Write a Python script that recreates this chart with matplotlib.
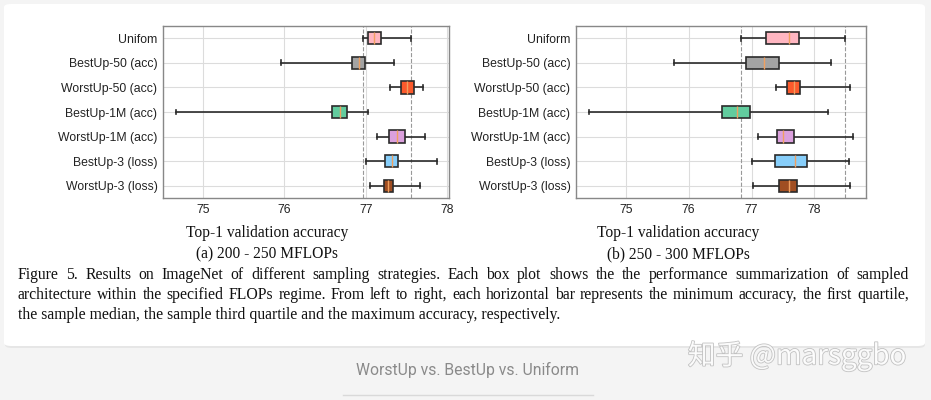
import matplotlib
matplotlib.use('Agg')
import matplotlib.pyplot as plt
import matplotlib.patheffects as pe
from matplotlib.patches import FancyBboxPatch
from matplotlib.lines import Line2D

# categories, top to bottom
labels_a = ['Unifom', 'BestUp-50 (acc)', 'WorstUp-50 (acc)', 'BestUp-1M (acc)',
            'WorstUp-1M (acc)', 'BestUp-3 (loss)', 'WorstUp-3 (loss)']
labels_b = ['Uniform', 'BestUp-50 (acc)', 'WorstUp-50 (acc)', 'BestUp-1M (acc)',
            'WorstUp-1M (acc)', 'BestUp-3 (loss)', 'WorstUp-3 (loss)']
box_colors = ['#ffb6c1', '#a3a3a3', '#fb5a2c', '#62cc9e', '#dba0dd', '#87cefa', '#a04e22']

# (a) 200 - 250 MFLOPs : min, q1, median, q3, max
a_min = [76.96, 75.96, 77.29, 74.67, 77.14, 77.00, 77.05]
a_q1 = [77.03, 76.83, 77.43, 76.59, 77.28, 77.24, 77.22]
a_med = [77.10, 76.91, 77.50, 76.68, 77.38, 77.32, 77.27]
a_q3 = [77.18, 76.99, 77.59, 76.77, 77.48, 77.39, 77.33]
a_max = [77.55, 77.35, 77.70, 77.02, 77.72, 77.87, 77.66]

# (b) 250 - 300 MFLOPs
b_min = [76.84, 75.76, 77.39, 74.42, 77.10, 77.01, 77.02]
b_q1 = [77.23, 76.91, 77.57, 76.53, 77.41, 77.37, 77.43]
b_med = [77.60, 77.20, 77.67, 76.77, 77.50, 77.69, 77.60]
b_q3 = [77.75, 77.43, 77.77, 76.98, 77.68, 77.88, 77.72]
b_max = [78.48, 78.26, 78.56, 78.21, 78.61, 78.55, 78.56]

xticks = [75, 76, 77, 78]
xlabel = 'Top-1 validation accuracy'
sub_a = '(a) 200 - 250 MFLOPs'
sub_b = '(b) 250 - 300 MFLOPs'
caption = [
    'Figure 5. Results on ImageNet of different sampling strategies.  Each box plot shows the the performance summarization of sampled',
    'architecture within the specified FLOPs regime. From left to right, each horizontal bar represents the minimum accuracy, the first quartile,',
    'the sample median, the sample third quartile and the maximum accuracy, respectively.',
]
page_title = 'WorstUp vs. BestUp vs. Uniform'
watermark = '知乎 @marsggbo'

W, H = 931, 400
fig = plt.figure(figsize=(W / 100, H / 100), dpi=100)
fig.patch.set_facecolor('#f4f4f4')


def px(x, y):
    return x / W, 1 - y / H


# white card
sh = FancyBboxPatch(px(5, 348), 920 / W, 343 / H, boxstyle='round,pad=0,rounding_size=0.008',
                    transform=fig.transFigure, facecolor='#e6e6e6', edgecolor='none', zorder=0)
card = FancyBboxPatch(px(4, 346), 921 / W, 342 / H, boxstyle='round,pad=0,rounding_size=0.008',
                      transform=fig.transFigure, facecolor='white', edgecolor='none', zorder=0)
fig.patches.extend([sh, card])


def panel(rect, labels, mins, q1s, meds, q3s, maxs, xlim):
    ax = fig.add_axes(rect)
    ax.set_zorder(2)
    stats = []
    for lab, lo, a, m, b, hi in zip(labels, mins, q1s, meds, q3s, maxs):
        stats.append(dict(label=lab, whislo=lo, q1=a, med=m, q3=b, whishi=hi, fliers=[]))
    pos = list(range(1, len(stats) + 1))
    res = ax.bxp(stats, positions=pos, vert=False, widths=0.5, patch_artist=True,
                 showfliers=False, capwidths=0.2,
                 boxprops=dict(edgecolor='#2b2b2b', linewidth=1.2),
                 whiskerprops=dict(color='#2b2b2b', linewidth=1.2),
                 capprops=dict(color='#2b2b2b', linewidth=1.2),
                 medianprops=dict(color='#f0a060', linewidth=1.0))
    for patch, c in zip(res['boxes'], box_colors):
        patch.set_facecolor(c)
        patch.set_zorder(3)
    for ln in res['medians']:
        ln.set_zorder(4)
    ax.axvline(mins[0], color='#999999', ls='--', lw=0.8, zorder=1)
    ax.axvline(maxs[0], color='#999999', ls='--', lw=0.8, zorder=1)
    ax.set_xlim(*xlim)
    ax.set_ylim(len(stats) + 0.5, 0.5)
    ax.set_xticks(xticks)
    ax.set_yticks(pos)
    ax.set_yticklabels(labels)
    ax.grid(True, color='#dcdcdc', lw=0.8, zorder=0)
    ax.set_axisbelow(True)
    ax.tick_params(length=0, labelsize=8.8, colors='#222222', pad=4)
    for lab in ax.get_xticklabels() + ax.get_yticklabels():
        lab.set_family('Liberation Sans')
    for s in ax.spines.values():
        s.set_color('#888888')
        s.set_linewidth(1.0)
    return ax


l, b = px(163, 198)
r, t = px(449, 26)
panel([l, b, r - l, t - b], labels_a, a_min, a_q1, a_med, a_q3, a_max, (74.51, 78.02))
l, b = px(576, 198)
r, t = px(866, 26)
panel([l, b, r - l, t - b], labels_b, b_min, b_q1, b_med, b_q3, b_max, (74.21, 78.82))

serif = 'Liberation Serif'
for cx, sub in [(267, sub_a), (678, sub_b)]:
    fig.text(*px(cx, 233), xlabel, ha='center', va='center', family=serif, fontsize=11.2, color='#111111')
    fig.text(*px(cx, 254), sub, ha='center', va='center', family=serif, fontsize=11.2, color='#111111')

# caption, justified lines
renderer = fig.canvas.get_renderer()
cap_y = [279, 299, 319]
x_left, x_right = 18, 909
cap_size = 11.3
for i, (line, yy) in enumerate(zip(caption, cap_y)):
    words = line.split()
    if i == len(caption) - 1:
        fig.text(*px(x_left, yy), line, ha='left', va='baseline', family=serif, fontsize=cap_size, color='#111111')
        continue
    arts = [fig.text(0, 0, w, family=serif, fontsize=cap_size, color='#111111', va='baseline') for w in words]
    widths = [a.get_window_extent(renderer).width for a in arts]
    gap = (x_right - x_left - sum(widths)) / (len(words) - 1)
    x = x_left
    for a, w in zip(arts, widths):
        a.set_position(px(x, yy))
        x += w + gap

# page text below card
fig.text(*px(468, 370), page_title, ha='center', va='center', family='Roboto', fontsize=11.3, color='#8a8a8a')
fig.add_artist(Line2D([343 / W, 593 / W], [1 - 395 / H, 1 - 395 / H], color='#d9d9d9', lw=1,
                      transform=fig.transFigure))
fig.text(*px(797, 356), watermark, ha='center', va='center', fontsize=20,
         family=['Noto Sans CJK SC', 'DejaVu Sans'], color='white', alpha=0.9,
         path_effects=[pe.withStroke(linewidth=1.2, foreground='#bdbdbd')])

fig.savefig('out.png', dpi=100, facecolor=fig.get_facecolor())
